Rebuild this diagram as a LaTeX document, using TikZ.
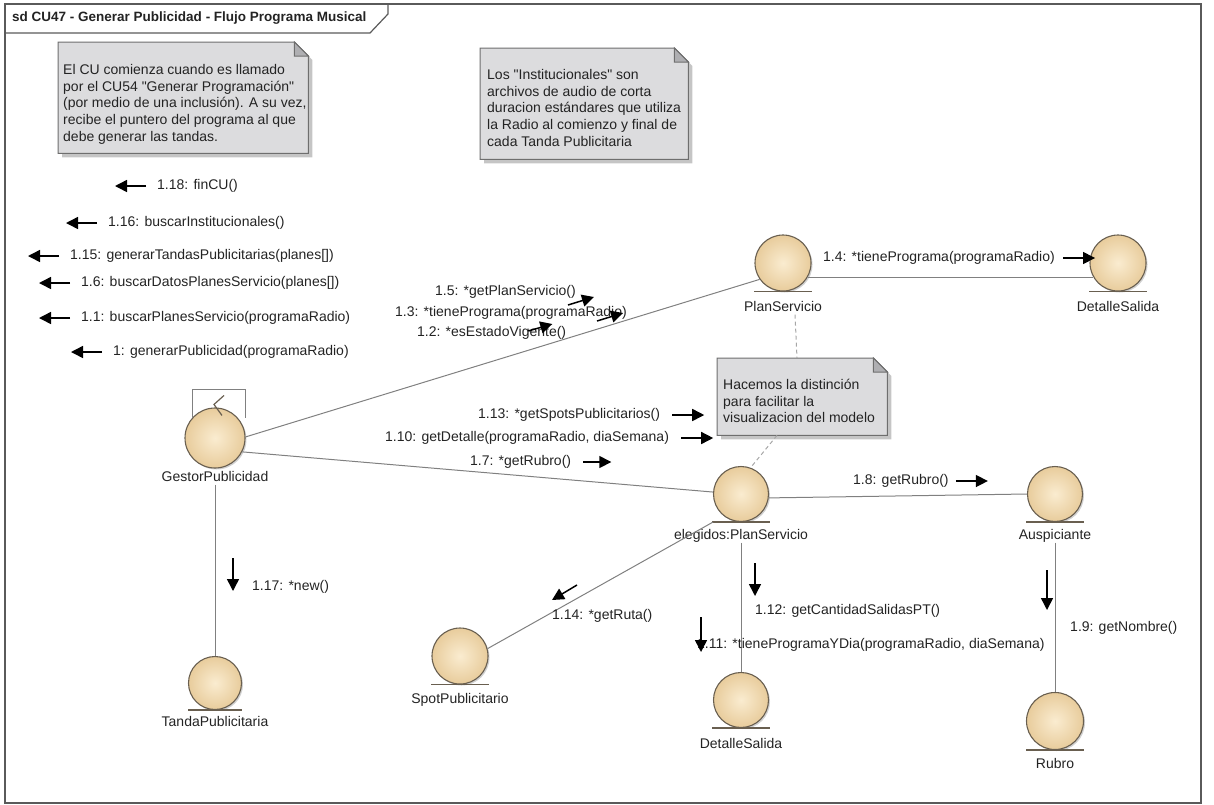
\documentclass[tikz,border=0pt]{standalone}
\usepackage{fontspec}
\setmainfont{Liberation Sans}[Ligatures=TeXOff]
\usetikzlibrary{arrows.meta,shadows,calc}

\definecolor{entinner}{RGB}{250,236,208}
\definecolor{entouter}{RGB}{232,204,156}
\definecolor{entline}{RGB}{105,95,80}
\definecolor{linkc}{RGB}{128,128,128}
\definecolor{notefill}{RGB}{220,220,222}
\definecolor{noteline}{RGB}{110,110,110}
\definecolor{notefold}{RGB}{175,175,178}
\definecolor{framec}{RGB}{90,90,90}
\definecolor{txt}{RGB}{35,35,35}

% folded-corner note body drawn around an (empty) sizing node
\newcommand\notebody[1]{%
  \fill[black!45, opacity=0.5] let \p1=(#1.north west), \p2=(#1.south east) in
    (\x1+4pt,\y1-4pt) -- (\x2-10pt,\y1-4pt) -- (\x2+4pt,\y1-18pt) -- (\x2+4pt,\y2-4pt) -- (\x1+4pt,\y2-4pt) -- cycle;
  \filldraw[fill=notefill, draw=noteline, line width=1pt] let \p1=(#1.north west), \p2=(#1.south east) in
    (\x1,\y1) -- (\x2-14pt,\y1) -- (\x2,\y1-14pt) -- (\x2,\y2) -- (\x1,\y2) -- cycle;
  \filldraw[fill=notefold, draw=noteline, line width=1pt] let \p1=(#1.north east) in
    (\x1-14pt,\y1) -- (\x1-14pt,\y1-14pt) -- (\x1,\y1-14pt) -- cycle;
}
\newcommand\qq{\symbol{34}}

\tikzset{
  every node/.style={text=txt, font=\fontsize{14}{16.7}\selectfont},
  lbl/.style={inner sep=0pt, text height=10pt, text depth=3pt, anchor=west},
  objname/.style={inner sep=0pt, text height=10pt, text depth=3pt},
  entity/.style={circle, minimum size=#1, inner sep=0pt, draw=entline, line width=1.1pt,
    inner color=entinner, outer color=entouter,
    drop shadow={shadow xshift=1.5pt, shadow yshift=-1.5pt, opacity=0.3, fill=black!60}},
  underline/.style={draw=entline, line width=1.2pt},
  link/.style={draw=linkc, line width=1pt},
  msg/.style={draw=black, line width=1.5pt, -{Triangle[length=12pt,width=12pt]}},
  notebox/.style={rectangle, inner sep=0pt, anchor=north west},
  notetext/.style={inner sep=0pt, align=left, anchor=north west},
  hint/.style={draw=linkc!70, line width=1pt, dash pattern=on 4pt off 3pt},
}

\begin{document}
\begin{tikzpicture}[x=1pt, y=-1pt]
\useasboundingbox (0,0) rectangle (1214,804);

% diagram frame and title tab
\draw[framec, line width=1.5pt] (5,4) rectangle (1201,803);
\draw[framec, line width=1.2pt] (5,33) -- (370,33) -- (388,14) -- (388,4);
\node[lbl, font=\bfseries\fontsize{13.5}{16}\selectfont] (title) at (12,18)
  {sd CU47 - Generar Publicidad - Flujo Programa Musical};

% notes
\node[notebox, minimum width=250, minimum height=111] (n1) at (58,42) {};
\notebody{n1}
\node[notetext] (n1t) at (63,64) {El CU comienza cuando es llamado\\por el CU54 \qq Generar Programación\qq\\(por medio de una inclusión). A su vez,\\recibe el puntero del programa al que\\debe generar las tandas.};

\node[notebox, minimum width=208, minimum height=111] (n2) at (480,48) {};
\notebody{n2}
\node[notetext] (n2t) at (487,69) {Los \qq Institucionales\qq\ son\\archivos de audio de corta\\duracion estándares que utiliza\\la Radio al comienzo y final de\\cada Tanda Publicitaria};

\node[notebox, minimum width=170, minimum height=77] (n3) at (717,358) {};
\notebody{n3}
\node[notetext] (n3t) at (723,379) {Hacemos la distinción\\para facilitar la\\visualizacion del modelo};

% objects
\node[entity=60] (g) at (215,438) {};
\draw[entline, line width=1.2pt] ([shift={(9pt,12pt)}]g.north) -- ([shift={(-1pt,3pt)}]g.north) -- ([shift={(7pt,-8pt)}]g.north);
\node[objname] (gl) at (215,478) {GestorPublicidad};

\node[entity=56] (ps) at (783,263) {};
\draw[underline] ([xshift=-29pt]ps.south) -- ([xshift=29pt]ps.south);
\node[objname] (psl) at (783,308) {PlanServicio};

\node[entity=56] (ds1) at (1118,263) {};
\draw[underline] ([xshift=-29pt]ds1.south) -- ([xshift=29pt]ds1.south);
\node[objname] (ds1l) at (1118,308) {DetalleSalida};

\node[entity=55] (el) at (741,494) {};
\draw[underline] ([xshift=-29pt]el.south) -- ([xshift=29pt]el.south);
\node[objname] (ell) at (741,536) {elegidos:PlanServicio};

\node[entity=55] (au) at (1055,494) {};
\draw[underline] ([xshift=-29pt]au.south) -- ([xshift=29pt]au.south);
\node[objname] (aul) at (1055,536) {Auspiciante};

\node[entity=56] (sp) at (460,656) {};
\draw[underline] ([xshift=-29pt]sp.south) -- ([xshift=29pt]sp.south);
\node[objname] (spl) at (460,700) {SpotPublicitario};

\node[entity=55] (ds2) at (741,700) {};
\draw[underline] ([xshift=-29pt]ds2.south) -- ([xshift=29pt]ds2.south);
\node[objname] (ds2l) at (741,745) {DetalleSalida};

\node[entity=57] (ru) at (1055,721) {};
\draw[underline] ([xshift=-29pt]ru.south) -- ([xshift=29pt]ru.south);
\node[objname] (rul) at (1055,765) {Rubro};

\node[entity=53] (tp) at (215,683) {};
\draw[underline] ([xshift=-27pt]tp.south) -- ([xshift=27pt]tp.south);
\node[objname] (tpl) at (215,723) {TandaPublicitaria};

% links
\draw[link] ([shift={(-23pt,20pt)}]g.center) -- ++(0,-29) -- ++(53,0) -- ++(0,29);
\draw[link] (g.2) -- (ps.215);
\draw[link] (g.-27) -- (el.176);
\draw[link] (gl.south) -- (tp.north);
\draw[link] (ps.-30) -- (ds1.210);
\draw[link] (el.-8) -- (au.180);
\draw[link] ([xshift=-28pt]el.south) -- (sp.15);
\draw[link] (ell.south) -- (ds2.north);
\draw[link] (aul.south) -- (ru.north);
\draw[hint] ([xshift=12pt]psl.south) -- ([xshift=80pt]n3.north west);
\draw[hint] ([xshift=60pt]n3.south west) -- (el.70);

% messages
\node[lbl] (m118) at (157,186) {1.18: finCU()};
\node[lbl] (m116) at (108,223) {1.16: buscarInstitucionales()};
\node[lbl] (m115) at (70,256) {1.15: generarTandasPublicitarias(planes[])};
\node[lbl] (m16) at (81,283) {1.6: buscarDatosPlanesServicio(planes[])};
\node[lbl] (m11) at (81,318) {1.1: buscarPlanesServicio(programaRadio)};
\node[lbl] (m1) at (113,352) {1: generarPublicidad(programaRadio)};
\foreach \m in {m118,m116,m115,m16,m11,m1}
  \draw[msg] ([xshift=-11pt]\m.west) -- ++(-31,0);

\node[lbl] (m15) at (435,292) {1.5: *getPlanServicio()};
\node[lbl] (m13) at (395,313) {1.3: *tienePrograma(programaRadio)};
\node[lbl] (m12) at (417,333) {1.2: *esEstadoVigente()};
\draw[msg] ([shift={(-8pt,-13pt)}]m15.east) -- ++(26,-8);
\draw[msg] ([shift={(-30pt,-8pt)}]m13.east) -- ++(26,-8);
\draw[msg] ([shift={(-38pt,2pt)}]m12.east) -- ++(24,-7);

\node[lbl] (m113) at (478,415) {1.13: *getSpotsPublicitarios()};
\node[lbl] (m110) at (385,438) {1.10: getDetalle(programaRadio, diaSemana)};
\node[lbl] (m17) at (470,462) {1.7: *getRubro()};
\draw[msg] ([xshift=12pt]m113.east) -- ++(32,0);
\draw[msg] ([xshift=12pt]m110.east) -- ++(32,0);
\draw[msg] ([xshift=12pt]m17.east) -- ++(28,0);

\node[lbl] (m14) at (823,258) {1.4: *tienePrograma(programaRadio)};
\draw[msg] ([xshift=8pt]m14.east) -- ++(32,0);
\node[lbl] (m18) at (853,481) {1.8: getRubro()};
\draw[msg] ([xshift=7pt]m18.east) -- ++(32,0);

\node[lbl] (m114) at (552,616) {1.14: *getRuta()};
\draw[msg] ([shift={(25pt,31pt)}]m114.west) -- ++(-25,15);
\node[lbl] (m112) at (755,611) {1.12: getCantidadSalidasPT()};
\draw[msg] ([shift={(0pt,48pt)}]m112.west) -- ++(0,33);
\node[lbl] (m111) at (697,645) {1.11: *tieneProgramaYDia(programaRadio, diaSemana)};
\draw[msg] ([shift={(4pt,28pt)}]m111.west) -- ++(0,35);
\node[lbl] (m19) at (1070,628) {1.9: getNombre()};
\draw[msg] ([shift={(-23pt,58pt)}]m19.west) -- ++(0,40);
\node[lbl] (m117) at (252,587) {1.17: *new()};
\draw[msg] ([shift={(-19pt,29pt)}]m117.west) -- ++(0,33);
\end{tikzpicture}
\end{document}
